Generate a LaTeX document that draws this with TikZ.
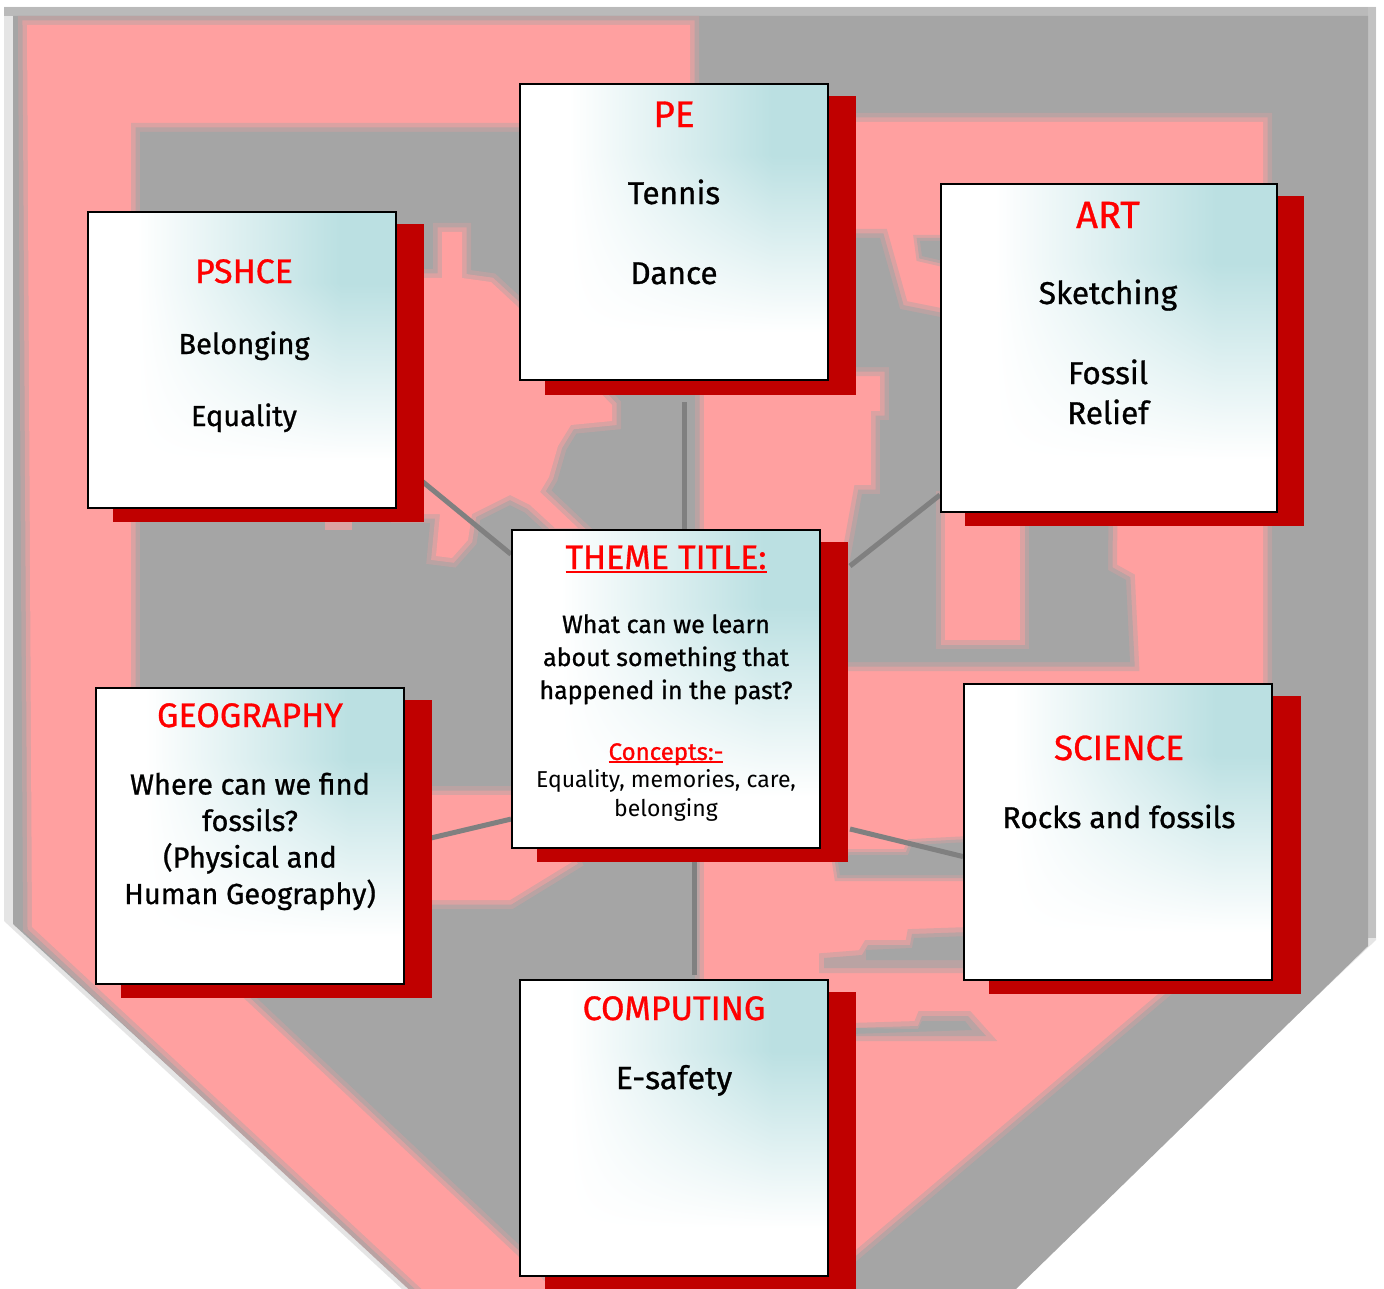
\documentclass[tikz,border=0pt]{standalone}
\usepackage{fontspec}
\setmainfont{Fira Sans}[FakeBold=0.9]
\newfontfamily\thinfont{Fira Sans}
\pgfdeclarelayer{back}
\pgfdeclarelayer{lines}
\pgfsetlayers{back,lines,main}
\definecolor{pinkc}{HTML}{FFA0A0}
\definecolor{grayc}{HTML}{A5A5A5}
\definecolor{hgray}{HTML}{BAA3A3}
\definecolor{hpink}{HTML}{DBA2A2}
\definecolor{shadowc}{HTML}{C00000}
\definecolor{linkc}{HTML}{808080}
\pgfdeclarefunctionalshading{boxfade}{\pgfpoint{0bp}{0bp}}{\pgfpoint{100bp}{100bp}}{}{
 33 sub 30 div dup 0 lt {pop 0} if dup 1 gt {pop 1} if
 exch 33 sub 33 div dup 0 lt {pop 0} if dup 1 gt {pop 1} if
 mul dup dup 0.267 mul 1 exch sub 3 1 roll 0.122 mul 1 exch sub exch 0.114 mul 1 exch sub
}
\newcommand\hd[2][35]{{\color{red}\fontsize{#1}{#1}\selectfont #2}}
\newcommand\ulhd[3][4]{{\color{red}\fontsize{#2}{#2}\selectfont\setbox0\hbox{#3}\rlap{\rule[-#1pt]{\wd0}{2.4pt}}\box0}}
\tikzset{
 pblob/.style={fill=pinkc,preaction={draw=hgray,line width=18pt},preaction={draw=hpink,line width=9pt}},
 gblob/.style={fill=grayc,preaction={draw=hpink,line width=18pt},preaction={draw=hgray,line width=9pt}},
 gsmall/.style={fill=grayc,preaction={draw=hpink,line width=12pt},preaction={draw=hgray,line width=6pt}},
 gfaint/.style={fill=hgray,preaction={draw=hpink,line width=10pt}},
 box/.style={draw=black,line width=2pt,shading=boxfade,minimum width=#1,inner sep=0pt},
 box/.default=308pt,
 shadowbox/.style={fill=shadowc},
 link/.style={draw=linkc,line width=5pt},
 txt/.style={align=center,anchor=base,inner sep=0pt,font=\fontsize{31.5}{40}\selectfont},
}
\begin{document}
\begin{tikzpicture}[x=1pt,y=-1pt]
\useasboundingbox (0,0) rectangle (1384,1289);
\begin{pgfonlayer}{back}
\begin{scope}
\clip (0,0) rectangle (1384,1289);
% shield frame
\fill[white] (0,0) rectangle (1384,1289);
\fill[color=black!10] (4,7) -- (1376,7) -- (1376,940) -- (1008,1289) -- (402,1289) -- (4,921) -- cycle;
\fill[color=black!27] (4,7) rectangle (1376,16);
\fill[color=black!24] (1368,7) rectangle (1376,938);
\fill[grayc] (13,16) -- (1368,16) -- (1368,946) -- (1016,1289) -- (412,1289) -- (13,924) -- cycle;
% counterchanged field
\path[pblob] (27,25) -- (690,25) -- (690,1320) -- (455,1320) -- (32,927) -- cycle;
\path[gblob] (140,132) -- (700,132) -- (700,1330) -- (610,1330) -- (140,888) -- cycle;
\path[pblob] (704,122) -- (1263,122) -- (1263,905) -- (858,1248) -- (704,1380) -- cycle;
% charge, left
\path[pblob] (400,278) -- (442,278) -- (442,232) -- (462,232) -- (462,278) -- (491,282) -- (518,307) -- (612,405) -- (612,421) -- (571,425) -- (558,446) -- (549,477) -- (540,492) -- (578,528) -- (555,528) -- (530,505) -- (510,495) -- (472,514) -- (468,540) -- (452,558) -- (436,556) -- (440,514) -- (400,514) -- cycle;
\fill[hpink] (325,520) rectangle (352,530);
\path[pblob] (400,795) -- (540,795) -- (572,862) -- (510,900) -- (400,900) -- cycle;
% charge, right
\path[gblob] (856,238) -- (880,238) -- (900,309) -- (945,318) -- (1110,318) -- (1108,570) -- (1126,580) -- (1130,662) -- (848,662) -- (850,560) -- (862,494) -- (880,494) -- (880,420) -- (889,420) -- (889,367) -- (856,367) -- cycle;
\path[gsmall] (920,241) -- (948,241) -- (948,262) -- (922,256) -- cycle;
\path[pblob] (945,500) -- (1020,500) -- (1020,640) -- (945,640) -- cycle;
\path[gsmall] (840,875) -- (838,862) -- (850,855) -- (908,855) -- (912,845) -- (970,842) -- (970,875) -- cycle;
\path[gfaint] (824,968) -- (824,958) -- (862,955) -- (868,945) -- (910,945) -- (912,934) -- (970,932) -- (970,968) -- cycle;
\fill[grayc] (866,950) -- (912,948) -- (914,938) -- (970,936) -- (970,960) -- (866,960) -- cycle;
\path[gfaint] (850,1036) -- (850,1028) -- (918,1026) -- (922,1016) -- (968,1016) -- (986,1036) -- cycle;
\fill[grayc] (850,1028) -- (918,1029) -- (922,1021) -- (965,1021) -- (972,1030) -- (850,1034) -- cycle;
\end{scope}
\end{pgfonlayer}
% shadows
\fill[shadowbox] (113,224) rectangle (424,522);
\fill[shadowbox] (545,96) rectangle (856,395);
\fill[shadowbox] (965,196) rectangle (1304,526);
\fill[shadowbox] (537,542) rectangle (848,862);
\fill[shadowbox] (121,700) rectangle (432,998);
\fill[shadowbox] (989,696) rectangle (1301,994);
\fill[shadowbox] (545,992) rectangle (856,1289);
% boxes
\node[box,minimum height=296pt] (pe) at (674,232) {};
\node[box,minimum height=296pt] (pshce) at (242,360) {};
\node[box=336pt,minimum height=328pt] (art) at (1109,348) {};
\node[box,minimum height=318pt] (theme) at (666,689) {};
\node[box,minimum height=296pt] (geo) at (250,836) {};
\node[box,minimum height=296pt] (science) at (1118,832) {};
\node[box,minimum height=296pt] (computing) at (674,1128) {};
% connectors
\coordinate (peEnd) at (684,402);
\coordinate (artEnd) at (850,566);
\coordinate (sciEnd) at (850,829);
\coordinate (compEnd) at (694,975);
\coordinate (themeS) at (694,848);
\begin{pgfonlayer}{lines}
\draw[link] (peEnd) -- (peEnd |- theme.north);
\draw[link] (pshce.327) -- (theme.139);
\draw[link] (artEnd) -- (art.221);
\draw[link] (geo.357) -- (theme.220);
\draw[link] (sciEnd) -- (science.189);
\draw[link] (themeS) -- (compEnd);
\end{pgfonlayer}
% texts
\node[txt] (peText) at (674,284) {\hd[37]{PE}\\[37pt]Tennis\\[40pt]Dance};
\node[txt,font=\fontsize{29}{36}\selectfont] (pshceText) at (244,426) {\hd[34]{PSHCE}\\[35pt]Belonging\\[36pt]Equality};
\node[txt] (artText) at (1108,424) {\hd[38]{ART}\\[36pt]Sketching\\[40pt]Fossil\\Relief};
\node[txt] (themeTitle) at (666,569) {\ulhd{34}{THEME TITLE:}};
\node[txt,font=\fontsize{25}{33}\selectfont] (themeQ) at (666,699) {What can we learn\\about something that\\happened in the past?};
\node[txt,font=\fontsize{25}{29}\selectfont] (themeC) at (666,760) {\ulhd[3]{24}{Concepts:-}};
\node[txt,font=\fontsize{23}{29}\selectfont\thinfont] (themeL) at (666,816) {Equality, memories, care,\\belonging};
\node[txt,font=\fontsize{29}{36.5}\selectfont] (geoText) at (250,904) {\hd[34]{GEOGRAPHY}\\[31pt]Where can we find\\fossils?\\(Physical and\\Human Geography)};
\node[txt,font=\fontsize{30}{35}\selectfont] (sciText) at (1119,828) {\hd[35]{SCIENCE}\\[33pt]Rocks and fossils};
\node[txt,font=\fontsize{32}{35}\selectfont] (compText) at (674,1089) {\hd[34]{COMPUTING}\\[34pt]E-safety};
\end{tikzpicture}
\end{document}
